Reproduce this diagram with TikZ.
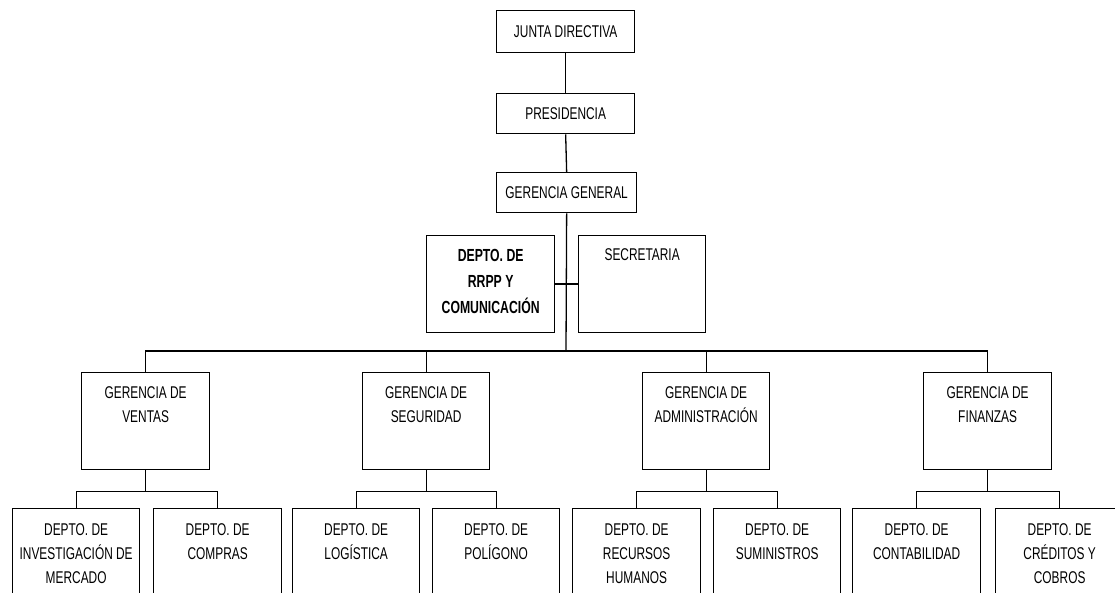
\documentclass[tikz,border=0pt]{standalone}
\usepackage{fontspec}
\setmainfont[FakeStretch=0.7]{Liberation Sans}
\newcommand\bxt[4][26]{\parbox[c][#3pt][t]{#2pt}{\centering\rule{0pt}{#1pt}#4}}
\tikzset{
  box/.style={draw, line width=1.3pt, inner sep=0pt, anchor=north west,
    font=\fontsize{17}{24}\selectfont},
  topbox/.style={box, align=center},
  link/.style={line width=1.3pt}
}
\begin{document}
\begin{tikzpicture}[x=1pt,y=-1pt]
\useasboundingbox (0,0) rectangle (1115,593);
\clip (0,0) rectangle (1115,593);
% top chain
\node[topbox, minimum width=138pt, minimum height=42pt] (jd) at (496,10) {JUNTA DIRECTIVA};
\node[topbox, minimum width=138pt, minimum height=40pt] (pres) at (496,93) {PRESIDENCIA};
\node[topbox, minimum width=140pt, minimum height=40pt] (gg) at (496,172) {GERENCIA GENERAL};
% staff
\node[box, font=\bfseries\fontsize{17.5}{26}\selectfont] (rrpp) at (426,235) {\bxt[26]{128}{97}{DEPTO. DE\\RRPP Y\\COMUNICACIÓN}};
\node[box] (sec) at (578,235) {\bxt[25]{127}{97}{SECRETARIA}};
% managers
\node[box] (ven) at (81,372) {\bxt{128}{97}{GERENCIA DE\\VENTAS}};
\node[box] (seg) at (362,372) {\bxt{127}{97}{GERENCIA DE\\SEGURIDAD}};
\node[box] (adm) at (642,372) {\bxt{127}{97}{GERENCIA DE\\ADMINISTRACIÓN}};
\node[box] (fin) at (923,372) {\bxt{128}{97}{GERENCIA DE\\FINANZAS}};
% departments
\node[box] (inv) at (12,508) {\bxt[27]{127}{120}{DEPTO. DE\\INVESTIGACIÓN DE\\MERCADO}};
\node[box] (com) at (153,508) {\bxt[27]{128}{120}{DEPTO. DE\\COMPRAS}};
\node[box] (log) at (292,508) {\bxt[27]{127}{120}{DEPTO. DE\\LOGÍSTICA}};
\node[box] (pol) at (432,508) {\bxt[27]{127}{120}{DEPTO. DE\\POLÍGONO}};
\node[box] (rh) at (572,508) {\bxt[27]{128}{120}{DEPTO. DE\\RECURSOS\\HUMANOS}};
\node[box] (sum) at (713,508) {\bxt[27]{127}{120}{DEPTO. DE\\SUMINISTROS}};
\node[box] (cont) at (852,508) {\bxt[27]{128}{120}{DEPTO. DE\\CONTABILIDAD}};
\node[box] (cred) at (995,508) {\bxt[27]{128}{120}{DEPTO. DE\\CRÉDITOS Y\\COBROS}};
% connectors
\draw[link] (jd.south) -- (pres.north);
\draw[link] (pres.south) -- (gg.north);
\coordinate (busc) at (566,351);
\draw[link] (gg.south) -- (busc);
\draw[link] (rrpp.east) -- (sec.west);
\draw[link] (ven.north) |- (busc) -| (fin.north);
\draw[link] (seg.north) -- (seg.north |- busc);
\draw[link] (adm.north) -- (adm.north |- busc);
\foreach \g/\a/\b in {ven/inv/com, seg/log/pol, adm/rh/sum, fin/cont/cred}{
  \draw[link] (\g.south) -- ++(0,21) coordinate (\g-x);
  \draw[link] (\a.north) |- (\g-x) -| (\b.north);
}
\end{tikzpicture}
\end{document}
